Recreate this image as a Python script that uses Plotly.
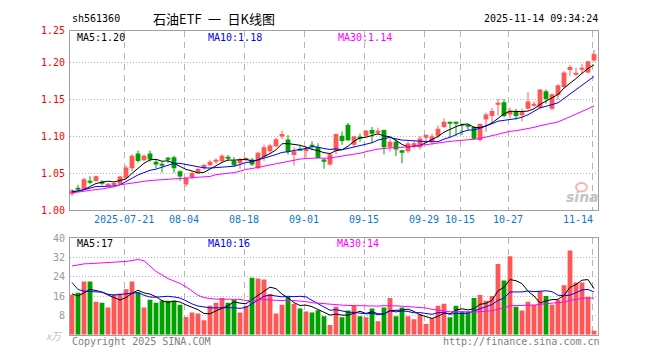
import numpy as np
import pandas as pd
import plotly.graph_objects as go

# ---------------- data ----------------
md = ["07-08","07-09","07-10","07-11","07-14","07-15","07-16","07-17","07-18","07-21",
      "07-22","07-23","07-24","07-25","07-28","07-29","07-30","07-31","08-01","08-04",
      "08-05","08-06","08-07","08-08","08-11","08-12","08-13","08-14","08-15","08-18",
      "08-19","08-20","08-21","08-22","08-25","08-26","08-27","08-28","08-29","09-01",
      "09-02","09-03","09-04","09-05","09-08","09-09","09-10","09-11","09-12","09-15",
      "09-16","09-17","09-18","09-19","09-22","09-23","09-24","09-25","09-26","09-29",
      "09-30","10-09","10-10","10-13","10-14","10-15","10-16","10-17","10-20","10-21",
      "10-22","10-23","10-24","10-27","10-28","10-29","10-30","10-31","11-03","11-04",
      "11-05","11-06","11-07","11-10","11-11","11-12","11-13","11-14"]
dates = ["2025-" + d for d in md]

opens = [1.022,1.0295,1.029,1.0395,1.0398,1.039,1.0335,1.034,1.036,1.044,
         1.057,1.077,1.068,1.077,1.066,1.062,1.0705,1.072,1.053,1.035,
         1.045,1.0515,1.057,1.061,1.0675,1.067,1.0718,1.067,1.064,1.068,
         1.069,1.057,1.0725,1.080,1.087,1.100,1.096,1.075,1.0828,1.080,
         1.0885,1.086,1.069,1.062,1.081,1.101,1.116,1.089,1.0993,1.101,
         1.109,1.1055,1.109,1.0855,1.093,1.0815,1.080,1.089,1.0855,1.0985,
         1.093,1.101,1.113,1.119,1.119,1.116,1.115,1.113,1.0955,1.123,
         1.128,1.1442,1.1464,1.130,1.1346,1.129,1.1377,1.1430,1.139,1.1616,
         1.1377,1.1564,1.1673,1.1904,1.185,1.192,1.187,1.203]
highs = [1.029,1.0346,1.044,1.0463,1.047,1.041,1.037,1.038,1.047,1.061,
         1.076,1.081,1.076,1.081,1.069,1.066,1.0725,1.074,1.054,1.0455,
         1.053,1.058,1.063,1.068,1.0704,1.076,1.075,1.072,1.0715,1.072,
         1.071,1.079,1.089,1.090,1.0985,1.108,1.102,1.0855,1.088,1.087,
         1.0936,1.091,1.0704,1.078,1.104,1.107,1.1185,1.1005,1.104,1.109,
         1.113,1.112,1.1095,1.0975,1.0975,1.0818,1.093,1.094,1.101,1.103,
         1.104,1.115,1.1247,1.1203,1.1203,1.1175,1.1163,1.114,1.118,1.1325,
         1.139,1.1512,1.1507,1.1394,1.1377,1.138,1.160,1.1477,1.164,1.1638,
         1.1586,1.1708,1.189,1.197,1.1934,1.1986,1.2022,1.2173]
lows = [1.019,1.0259,1.028,1.0355,1.039,1.034,1.033,1.033,1.035,1.043,
        1.053,1.065,1.067,1.066,1.057,1.051,1.064,1.051,1.040,1.032,
        1.042,1.050,1.055,1.060,1.063,1.064,1.067,1.059,1.0565,1.0665,
        1.060,1.056,1.067,1.078,1.0855,1.0966,1.0757,1.0608,1.0818,1.0717,
        1.0827,1.0717,1.0564,1.0605,1.076,1.089,1.094,1.0855,1.093,1.099,
        1.091,1.102,1.076,1.080,1.0738,1.0638,1.078,1.0838,1.0825,1.0933,
        1.089,1.098,1.1115,1.0985,1.101,1.102,1.109,1.0955,1.0933,1.1066,
        1.1175,1.1285,1.126,1.125,1.123,1.1206,1.137,1.140,1.1377,1.1447,
        1.136,1.150,1.165,1.1826,1.1826,1.1847,1.1856,1.2013]
closes = [1.027,1.0285,1.042,1.038,1.0463,1.036,1.0355,1.037,1.046,1.058,
          1.074,1.067,1.074,1.069,1.062,1.061,1.0695,1.057,1.046,1.044,
          1.0505,1.056,1.0615,1.066,1.068,1.074,1.0712,1.061,1.069,1.071,
          1.062,1.078,1.0855,1.088,1.0965,1.1035,1.079,1.080,1.0822,1.0838,
          1.0879,1.071,1.066,1.076,1.1035,1.094,1.095,1.100,1.0988,1.108,
          1.104,1.108,1.0855,1.093,1.0825,1.078,1.0905,1.091,1.0975,1.102,
          1.100,1.1105,1.120,1.118,1.1185,1.115,1.114,1.097,1.117,1.130,
          1.1346,1.1447,1.128,1.1346,1.128,1.1346,1.1477,1.1434,1.1638,1.151,
          1.1573,1.1695,1.187,1.1943,1.1856,1.1925,1.202,1.2117]
volumes = [16.5,17.3,22,22,13.6,13.2,11.2,16.7,16.9,18.8,
           22,17.6,11.2,14.4,13.2,14,14,14,12.4,7.3,
           9.2,8.8,6,12,13.2,15.2,13.2,14.4,9.2,12,
           23.6,23.2,22.8,16.8,8.8,12.4,15.6,12.8,10.8,9.6,
           9.2,10.1,7.6,4,11.6,7.2,10,11.9,7.6,7.2,
           10.8,5.6,11.2,15.2,7.6,11.2,7.6,6.4,8.4,4.4,
           6.8,12,12.8,7.2,12,9.6,9.6,15.2,16.4,14,
           16,29.2,22.4,32.4,11.6,10,13.6,12.4,18,16,
           12.4,14.4,20.4,34.8,21.6,21.6,15.6,1.6]

# moving-average values before enough history exists
price_ma5_lead = [1.0259,1.0259,1.0281,1.032]
price_ma10_lead = [1.0246,1.026,1.028,1.030,1.0324,1.0324,1.0326,1.033,1.0346]
price_ma30_lead = [1.0237,1.025,1.0257,1.027,1.0282,1.029,1.030,1.032,1.0346,1.0357,
                   1.0368,1.0385,1.040,1.0405,1.041,1.0415,1.0422,1.0432,1.0437,1.044,
                   1.0442,1.0447,1.0453,1.046,1.0483,1.049,1.050,1.0512,1.053]
vol_ma5_lead = [16.9,16.0,17.3,18.7]
vol_ma10_lead = [21.6,18.7,18.0,17.7,17.7,17.6,16.7,16.4,16.7]
vol_ma30_lead = [28.4,28.9,29.3,29.4,29.5,29.6,29.7,29.8,30.0,30.3,
                 30.7,31.1,30.6,28.4,26.2,24.7,23.2,22.2,21.2,19.8,
                 18.2,16.3,15.3,14.9,14.7,14.7,14.7,14.7,14.6]

label_dates = ["2025-07-21","2025-08-04","2025-08-18","2025-09-01","2025-09-15",
               "2025-09-29","2025-10-15","2025-10-27","2025-11-14"]
label_texts = ["2025-07-21","08-04","08-18","09-01","09-15","09-29","10-15","10-27","11-14"]
price_ticks = [1.00,1.05,1.10,1.15,1.20]
vol_ticks = [8,16,24,32,40]

# ---------------- styling ----------------
RED = "#ff5656"
GREEN = "#00a000"
MONO = "DejaVu Sans Mono"
W, H = 660, 360

def px(x):
    return x / W

def py(y):
    return 1 - y / H

def moving(vals, n, lead):
    s = pd.Series(vals, dtype=float).rolling(n).mean().to_numpy()
    s[:n - 1] = lead
    return s

n = len(dates)
idx = np.arange(n)
o = np.array(opens); c = np.array(closes)
hi = np.array(highs); lo = np.array(lows)
up = c >= o
colors = [RED if u else GREEN for u in up]

body_h = np.maximum(np.abs(c - o), 0.0013)
body_base = (o + c) / 2 - body_h / 2

fig = go.Figure()

# wicks
for flag, col in ((True, RED), (False, GREEN)):
    xs, ys = [], []
    for i in idx[up == flag]:
        xs += [i, i, None]
        ys += [lo[i], hi[i], None]
    fig.add_trace(go.Scatter(x=xs, y=ys, mode="lines", line=dict(color=col, width=1),
                             xaxis="x", yaxis="y", hoverinfo="skip"))

# bodies
fig.add_trace(go.Bar(x=idx, y=body_h, base=body_base, width=0.8,
                     marker=dict(color=colors, line=dict(width=0)),
                     xaxis="x", yaxis="y", hoverinfo="skip"))

# price MAs
for nn, lead, col in ((5, price_ma5_lead, "black"), (10, price_ma10_lead, "#0000ff"),
                      (30, price_ma30_lead, "#ff00ff")):
    fig.add_trace(go.Scatter(x=idx, y=moving(closes, nn, lead), mode="lines",
                             line=dict(color=col, width=1), xaxis="x", yaxis="y",
                             hoverinfo="skip"))

# volume bars
fig.add_trace(go.Bar(x=idx, y=volumes, width=0.8,
                     marker=dict(color=colors, line=dict(width=0)),
                     xaxis="x2", yaxis="y2", hoverinfo="skip"))
for nn, lead, col in ((5, vol_ma5_lead, "black"), (10, vol_ma10_lead, "#0000ff"),
                      (30, vol_ma30_lead, "#ff00ff")):
    fig.add_trace(go.Scatter(x=idx, y=moving(volumes, nn, lead), mode="lines",
                             line=dict(color=col, width=1), xaxis="x2", yaxis="y2",
                             hoverinfo="skip"))

label_idx = [dates.index(d) for d in label_dates]
grid_x = [i - 0.333 for i in label_idx]

x_dom = [px(70), px(598)]
xr = [-0.333, n - 0.333]
price_top = 1.2436
common_x = dict(range=xr, domain=x_dom, showticklabels=False, tickvals=grid_x,
                ticks="", showgrid=True, gridcolor="#b4b4b4", griddash="6px,5px",
                gridwidth=1, zeroline=False, showline=True, mirror=True,
                linecolor="#a0a0a0", linewidth=1, fixedrange=True)

fig.update_layout(
    width=W, height=H, margin=dict(l=0, r=0, t=0, b=0),
    paper_bgcolor="white", plot_bgcolor="white", showlegend=False,
    barmode="overlay", hovermode=False,
    xaxis=dict(anchor="y", **common_x),
    xaxis2=dict(anchor="y2", matches="x", **common_x),
    yaxis=dict(domain=[py(211.4), py(25.5)], range=[1.0, price_top],
               tickvals=price_ticks + [price_top],
               ticktext=[f"{v:.2f}" for v in price_ticks] + ["1.25"],
               tickfont=dict(family=MONO, size=10, color="#ff0000"),
               ticks="", ticklabelstandoff=2, showgrid=True, gridcolor="#b4b4b4",
               griddash="1px,2px", zeroline=False, showline=True, mirror=True,
               linecolor="#a0a0a0", linewidth=1, anchor="x", fixedrange=True),
    yaxis2=dict(domain=[py(340), py(240)], range=[0, 40], tickvals=vol_ticks,
                ticktext=[str(v) for v in vol_ticks],
                tickfont=dict(family=MONO, size=10, color="#999999"),
                ticks="", ticklabelstandoff=2, showgrid=True, gridcolor="#b4b4b4",
                griddash="1px,2px", zeroline=False, showline=True, mirror=True,
                linecolor="#a0a0a0", linewidth=1, anchor="x2", fixedrange=True),
)

ann = []
def text(x, y, s, color="black", size=10, anchor="left", family=MONO, **kw):
    ann.append(dict(x=px(x), y=py(y), xref="paper", yref="paper", text=s,
                    showarrow=False, xanchor=anchor, yanchor="middle",
                    font=dict(family=family, size=size, color=color), **kw))

text(70, 13, "sh561360", size=10)
text(151, 13, "石油ETF\u2002一\u2002日K线图", size=13, family="Noto Sans CJK SC")
text(600, 13, "2025-11-14 09:34:24", size=10, anchor="right")

text(75, 33, "MA5:1.20")
text(206, 33, "MA10:1.18", color="#0000ff")
text(336, 33, "MA30:1.14", color="#ff00ff")

text(75, 246, "MA5:17")
text(206, 246, "MA10:16", color="#0000ff")
text(335, 246, "MA30:14", color="#ff00ff")

for i, (li, lt) in enumerate(zip(label_idx, label_texts)):
    if i == len(label_idx) - 1:
        text(595, 221, lt, color="#0d78cc", anchor="right")
    else:
        ann.append(dict(x=li - 0.333, y=py(221), xref="x", yref="paper", text=lt,
                        showarrow=False, xanchor="center", yanchor="middle",
                        font=dict(family=MONO, size=10, color="#0d78cc")))

text(70, 347, "Copyright 2025 SINA.COM", color="#808080")
text(602, 347, "http://finance.sina.com.cn", color="#808080", anchor="right")
text(65, 341, "<i>x万</i>", color="#c0c0c0", anchor="right", family="Noto Sans CJK SC")
text(582, 198, "<b><i>sina</i></b>", color="#c4c4c4", size=14, anchor="center",
     family="DejaVu Sans")

fig.update_layout(annotations=ann)
fig.add_shape(type="circle", xref="paper", yref="paper",
              x0=px(576), x1=px(587), y0=py(192), y1=py(183),
              line=dict(color="#f2b8b8", width=2))

post = ("document.documentElement.style.margin='0';"
        "document.body.style.margin='0';"
        "document.body.style.overflow='hidden';"
        "var gd=document.getElementById('{plot_id}');"
        "gd.style.position='fixed';gd.style.left='0px';gd.style.top='0px';")
fig.write_html("out.html", config={"displayModeBar": False}, post_script=post)
